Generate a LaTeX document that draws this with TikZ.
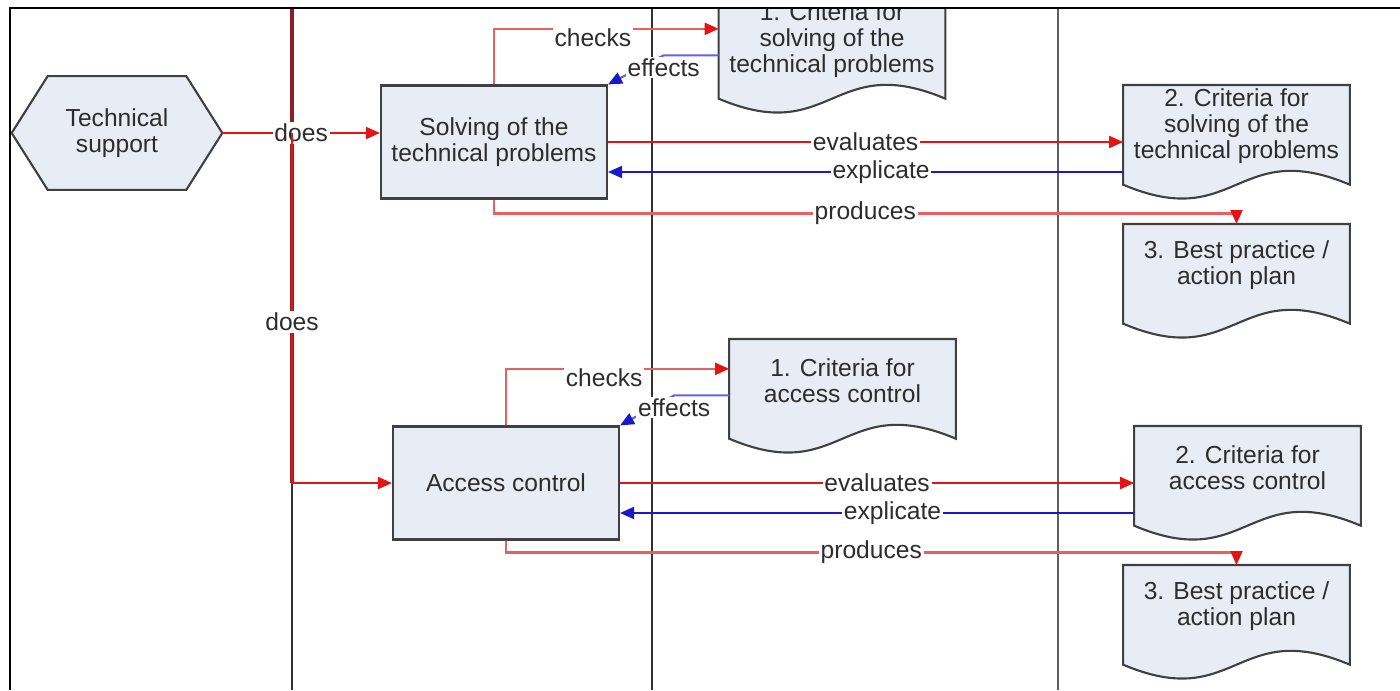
\documentclass[tikz,border=0pt]{standalone}
\usepackage{fontspec}
\setmainfont{Liberation Sans}
\usetikzlibrary{arrows.meta,calc,backgrounds}

\definecolor{boxfill}{RGB}{232,236,245}
\definecolor{boxline}{RGB}{64,64,64}
\definecolor{linkred}{RGB}{228,20,20}
\definecolor{softred}{RGB}{232,96,96}
\definecolor{linkblue}{RGB}{25,25,200}
\definecolor{softblue}{RGB}{90,100,230}
\definecolor{lanered}{RGB}{140,32,36}
\definecolor{lanedark}{RGB}{50,50,50}
\definecolor{lanegray}{RGB}{95,95,95}
\definecolor{txt}{RGB}{45,45,45}

\tikzset{
  every node/.style={font=\fontsize{14}{14.8}\selectfont, text=txt},
  hexnode/.style={minimum width=4.2cm, minimum height=2.26cm, align=center, inner sep=1pt},
  taskbox/.style={draw=boxline, fill=boxfill, line width=1.2pt, minimum width=4.52cm, minimum height=2.26cm, align=center, inner sep=1pt},
  docbox/.style={minimum width=4.52cm, minimum height=1.64cm, align=center, inner sep=1pt, anchor=north},
  docline/.style={draw=boxline, fill=boxfill, line width=1.2pt},
  lbl/.style={fill=white, inner sep=1pt},
  redarr/.style={draw=linkred, line width=1.1pt, -{Triangle[length=0.28cm,width=0.24cm]}},
  softredarr/.style={draw=softred, line width=1.2pt, -{Triangle[length=0.28cm,width=0.24cm,color=linkred]}},
  bluearr/.style={draw=linkblue, line width=1.1pt, -{Triangle[length=0.28cm,width=0.24cm]}},
  softbluearr/.style={draw=softblue, line width=1.2pt, -{Triangle[length=0.28cm,width=0.24cm,color=linkblue]}}
}

\begin{document}
\begin{tikzpicture}[x=0.02cm,y=-0.02cm]
\useasboundingbox (0,0) rectangle (1400,690);
\foreach \x/\c/\w in {292/lanedark/1.6pt, 652/lanedark/1.6pt, 1058/lanegray/1.1pt}
  \draw[\c, line width=\w] (\x,8) -- (\x,690);
\draw[lanered, line width=1.8pt] (292,8) -- (292,483);

\node[hexnode] (tsup) at (117,133) {Technical\\support};
\node[taskbox] (solve) at (494,142) {Solving of the\\technical problems};
\node[taskbox] (access) at (506,483) {Access control};
\node[docbox] (critsa) at (832,-1) {1. Criteria for\\solving of the\\technical problems};
\node[docbox] (critsb) at (1236.5,85) {2. Criteria for\\solving of the\\technical problems};
\node[docbox] (bestsa) at (1236.5,224) {3. Best practice /\\action plan};
\node[docbox] (critaa) at (842.5,339) {1. Criteria for\\access control};
\node[docbox] (critab) at (1247.5,426) {2. Criteria for\\access control};
\node[docbox] (bestab) at (1236.5,565) {3. Best practice /\\action plan};

\begin{scope}[on background layer]
\path[docline] (tsup.west) -- ($(tsup.north west)+(36,0)$) -- ($(tsup.north east)+(-36,0)$) -- (tsup.east)
  -- ($(tsup.south east)+(-36,0)$) -- ($(tsup.south west)+(36,0)$) -- cycle;
\foreach \d in {critsa,critsb,bestsa,critaa,critab,bestab}
  \path[docline] (\d.north west) -- ($(\d.south west)+(0,17)$)
    .. controls ($(\d.south)+(0,65)$) and ($(\d.south)+(0,-31)$) .. ($(\d.south east)+(0,17)$)
    -- (\d.north east) -- cycle;
\end{scope}

\coordinate (split) at (292,133);
\draw[redarr] (tsup.east) -- node[lbl] (ldoes1) {does} (tsup.east -| solve.west);
\draw[redarr] (split) |- node[lbl,pos=0.27] (ldoes2) {does} (access.west);

\draw[softredarr] (solve.north) |- node[lbl,pos=0.72,yshift=-0.18cm] (lchk1) {checks} ([yshift=0.23cm]critsa.west);
\draw[softbluearr] ([yshift=-0.3cm]critsa.west) -- ++(-55,0) node[lbl,yshift=-0.24cm] (leff1) {effects} -- (solve.north east);
\draw[redarr] (solve.east) -- node[lbl] (leva1) {evaluates} (solve.east -| critsb.west);
\coordinate (exp1) at ($(solve.east)+(0,30)$);
\draw[bluearr] (exp1 -| critsb.west) -- node[lbl,pos=0.47] (lexp1) {explicate} (exp1);
\draw[softredarr] (solve.south) -- ++(0,14) -| node[lbl,pos=0.25] (lpro1) {produces} (bestsa.north);

\draw[softredarr] (access.north) |- node[lbl,pos=0.72,yshift=-0.18cm] (lchk2) {checks} ([yshift=0.23cm]critaa.west);
\draw[softbluearr] ([yshift=-0.3cm]critaa.west) -- ++(-55,0) node[lbl,yshift=-0.24cm] (leff2) {effects} -- (access.north east);
\draw[redarr] (access.east) -- node[lbl] (leva2) {evaluates} (access.east -| critab.west);
\coordinate (exp2) at ($(access.east)+(0,30)$);
\draw[bluearr] (exp2 -| critab.west) -- node[lbl,pos=0.47] (lexp2) {explicate} (exp2);
\draw[softredarr] (access.south) -- ++(0,12) -| node[lbl,pos=0.25] (lpro2) {produces} (bestab.north);

\fill[white] (0,0) rectangle (1400,8);
\draw[black, line width=1.2pt] (10,690) -- (10,8) -- (1400,8);
\end{tikzpicture}
\end{document}
